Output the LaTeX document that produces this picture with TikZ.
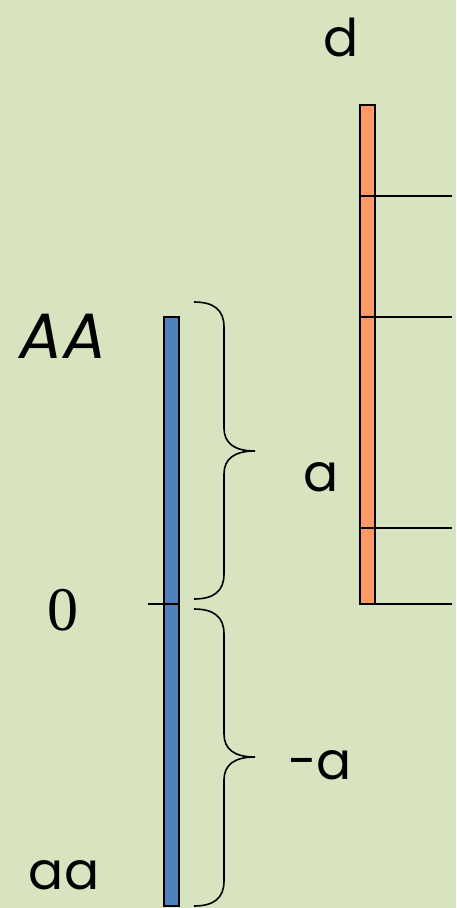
\documentclass[tikz,border=0pt]{standalone}
\usepackage{fontspec}
\setmainfont{Liberation Serif}
\newfontfamily\comicfont{Poppins}
\usetikzlibrary{decorations.pathreplacing}
\definecolor{bggreen}{HTML}{D8E4BF}
\definecolor{barblue}{HTML}{4F81BD}
\definecolor{barorange}{HTML}{FF9966}
\begin{document}
\begin{tikzpicture}[x=1pt,y=-1pt,
  bar/.style={draw=black, line width=1.6pt},
  lbl/.style={font=\comicfont\fontsize{52}{56}\selectfont},
  brc/.style={line width=1.6pt}]
\fill[bggreen] (0,0) rectangle (456,908);
\useasboundingbox (0,0) rectangle (456,908);
% bars
\filldraw[bar, fill=barblue] (164,317) rectangle (179,906);
\filldraw[bar, fill=barorange] (360,105) rectangle (375,604);
\draw[line width=1.1pt] (148,604)--(179,604);
% lines on the right of the orange bar
\coordinate (p1) at (360,196);
\coordinate (p2) at (360,317);
\coordinate (p3) at (360,528);
\coordinate (p4) at (360,604);
\draw[line width=1.4pt] (p1)--(452,196) (p2)--(452,317);
\draw[line width=1.1pt] (p3)--(452,528) (p4)--(452,604);
% braces
\draw[brc] (194,302) .. controls (214,302) and (224,310) .. (224,327) -- (224,428)
  .. controls (224,443) and (234,451) .. (255,451)
  .. controls (234,451) and (224,459) .. (224,474) -- (224,574)
  .. controls (224,591) and (214,599) .. (194,599);
\draw[brc] (194,609) .. controls (214,609) and (224,617) .. (224,634) -- (224,734)
  .. controls (224,749) and (234,757) .. (255,757)
  .. controls (234,757) and (224,765) .. (224,780) -- (224,881)
  .. controls (224,898) and (214,906) .. (194,906);
% labels
\node[lbl] (d) at (341,37) {d};
\node[font=\comicfont\fontsize{64}{70}\selectfont\itshape] (AA) at (63,336) {AA};
\node[lbl] (a) at (321,477) {a};
\node[font=\fontsize{62}{66}\selectfont] (zero) at (63,610) {0};
\node[lbl] (ma) at (320,765) {-a};
\node[lbl] (aa) at (64,875) {aa};
\end{tikzpicture}
\end{document}
